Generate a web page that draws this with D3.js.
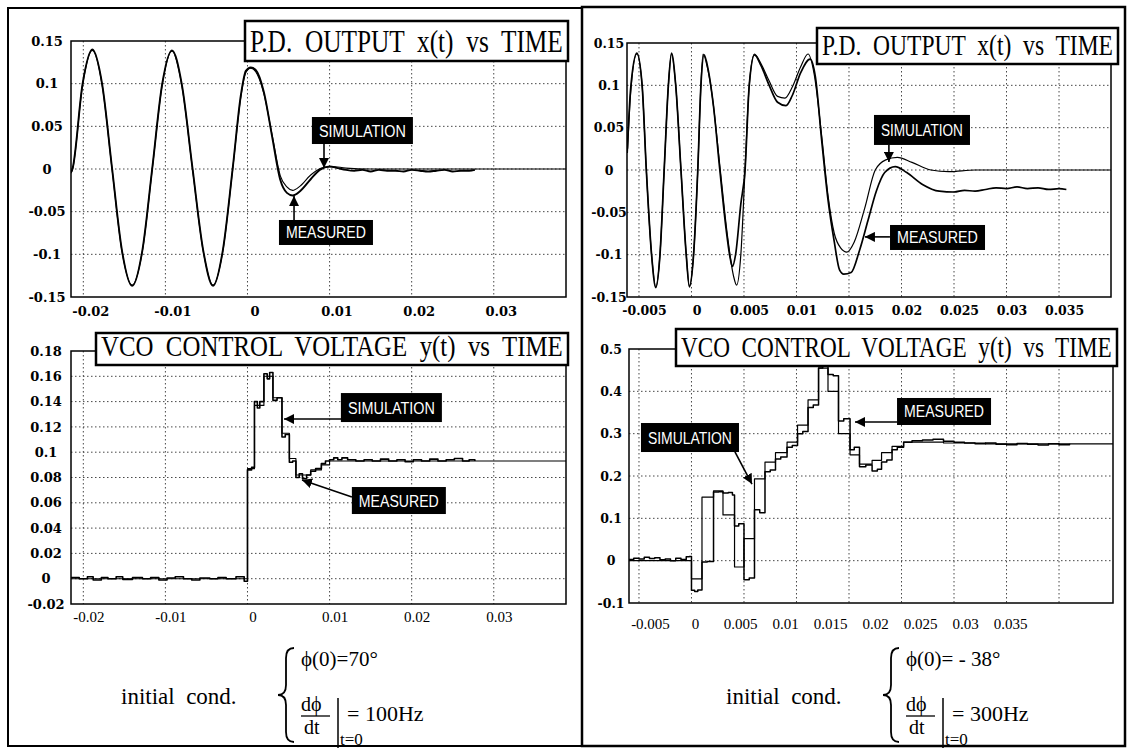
<!DOCTYPE html>
<html>
<head>
<meta charset="utf-8">
<script src="https://cdn.jsdelivr.net/npm/d3@7"></script>
<style>
  body { margin: 0; background: #fff; }
  svg { display: block; }
</style>
</head>
<body>
<svg id="chart" width="1129" height="752"></svg>
<script>
// tick values of the four plots
var leftTimeTicks  = [-0.02, -0.01, 0, 0.01, 0.02, 0.03];
var rightTimeTicks = [-0.005, 0, 0.005, 0.01, 0.015, 0.02, 0.025, 0.03, 0.035];
var pdTicks        = [-0.15, -0.1, -0.05, 0, 0.05, 0.1, 0.15];
var vcoLeftTicks   = [-0.02, 0, 0.02, 0.04, 0.06, 0.08, 0.1, 0.12, 0.14, 0.16, 0.18];
var vcoRightTicks  = [-0.1, 0, 0.1, 0.2, 0.3, 0.4, 0.5];

// P.D. output x(t), left case  [time, value]
var pdLeftSim = [[-0.0215,-0.005],[-0.0213,0.0],[-0.0201,0.098],[-0.0189,0.139],[-0.0177,0.098],[-0.0165,0.0],
  [-0.0153,-0.096],[-0.01405,-0.136],[-0.0128,-0.096],[-0.0116,0.0],[-0.0104,0.098],[-0.0092,0.138],[-0.0080,0.098],
  [-0.0067,0.0],[-0.0054,-0.096],[-0.0042,-0.136],[-0.0030,-0.096],[-0.0018,0.0],[-0.0008,0.085],[-0.0002,0.113],
  [0.0004,0.118],[0.0010,0.114],[0.0020,0.088],[0.0030,0.040],[0.0040,-0.008],[0.0048,-0.021],[0.0055,-0.025],
  [0.0064,-0.020],[0.0077,-0.007],[0.0090,0.001],[0.0103,0.003],[0.0120,0.001],[0.0150,0.0],[0.0388,0.0]];
var pdLeftMeas = [[-0.0215,-0.004],[-0.0213,0.001],[-0.0201,0.099],[-0.0189,0.140],[-0.0177,0.099],[-0.0165,0.001],
  [-0.0153,-0.095],[-0.01405,-0.137],[-0.0128,-0.095],[-0.0116,0.001],[-0.0104,0.099],[-0.0092,0.139],[-0.0080,0.099],
  [-0.0067,0.001],[-0.0054,-0.095],[-0.0042,-0.137],[-0.0030,-0.095],[-0.0018,0.001],[-0.0008,0.087],[-0.0002,0.115],
  [0.0004,0.119],[0.0010,0.116],[0.0020,0.090],[0.0030,0.038],[0.0040,-0.013],[0.0048,-0.028],[0.0055,-0.031],
  [0.0064,-0.026],[0.0077,-0.012],[0.0088,-0.001],[0.0100,0.003],[0.0110,0.001],[0.0120,-0.001],[0.0130,-0.002],
  [0.0140,-0.001],[0.0150,-0.003],[0.0160,-0.001],[0.0170,-0.002],[0.0180,-0.002],[0.0190,-0.003],[0.0200,-0.001],
  [0.0210,-0.002],[0.0220,-0.003],[0.0230,-0.002],[0.0240,-0.001],[0.0250,-0.003],[0.0260,-0.002],[0.0270,-0.002],
  [0.0277,-0.001]];

// VCO control voltage y(t), left case
var vcoLeftSim = [[-0.0215,0.0],[0.0,0.087],[0.00085,0.137],[0.0020,0.160],[0.0031,0.143],[0.0042,0.115],
  [0.0051,0.095],[0.0059,0.082],[0.0077,0.086],[0.0090,0.090],[0.0100,0.093],[0.0388,0.093]];
var vcoLeftMeas = [[-0.0215,0.001],[-0.0205,0.0],[-0.0195,0.0015],[-0.0188,-0.001],[-0.0178,0.001],[-0.0170,0.0],
  [-0.0160,0.0015],[-0.0152,-0.0005],[-0.0140,0.001],[-0.0128,0.0],[-0.0118,0.001],[-0.0108,-0.001],[-0.0098,0.0005],
  [-0.0088,0.0015],[-0.0078,0.0],[-0.0068,-0.001],[-0.0058,0.0005],[-0.0046,0.0],[-0.0036,0.001],[-0.0026,0.0],
  [-0.0014,0.0015],[-0.0004,-0.002],[0.0,0.086],[0.0005,0.088],[0.00085,0.140],[0.0012,0.135],[0.0015,0.140],
  [0.0020,0.162],[0.0024,0.158],[0.0027,0.163],[0.0031,0.141],[0.0036,0.143],[0.0042,0.112],[0.0046,0.114],
  [0.0051,0.092],[0.0055,0.093],[0.0059,0.080],[0.0063,0.083],[0.0067,0.079],[0.0072,0.082],[0.0077,0.085],
  [0.0083,0.087],[0.0090,0.091],[0.0095,0.093],[0.0100,0.094],[0.0105,0.0955],[0.0110,0.094],[0.0115,0.0955],
  [0.0122,0.094],[0.0132,0.093],[0.0142,0.094],[0.0152,0.093],[0.0162,0.0945],[0.0172,0.093],[0.0182,0.094],
  [0.0192,0.0925],[0.0202,0.094],[0.0212,0.093],[0.0222,0.0945],[0.0232,0.093],[0.0242,0.094],[0.0252,0.095],
  [0.0262,0.093],[0.0270,0.094],[0.0277,0.093]];

// P.D. output x(t), right case
var pdRightSim = [[-0.0061,0.02],[-0.0058,0.09],[-0.0052,0.137],[-0.0047,0.10],[-0.0043,0.0],[-0.0038,-0.10],
  [-0.0034,-0.138],[-0.0030,-0.10],[-0.0026,0.0],[-0.0022,0.10],[-0.0019,0.137],[-0.0015,0.10],[-0.0010,0.0],
  [-0.0005,-0.10],[-0.0002,-0.137],[0.0002,-0.10],[0.0006,0.0],[0.0009,0.10],[0.0011,0.137],[0.0015,0.122],
  [0.0020,0.085],[0.0027,0.005],[0.0034,-0.075],[0.0040,-0.125],[0.0043,-0.136],[0.0047,-0.10],[0.0051,0.0],
  [0.0055,0.10],[0.0060,0.137],[0.0066,0.126],[0.0074,0.105],[0.0082,0.087],[0.0089,0.085],[0.0096,0.098],
  [0.0104,0.122],[0.0111,0.137],[0.0117,0.112],[0.0124,0.04],[0.0130,-0.03],[0.0136,-0.075],[0.0142,-0.092],
  [0.0148,-0.097],[0.0155,-0.085],[0.0165,-0.045],[0.0175,0.0],[0.0185,0.012],[0.0196,0.015],[0.0210,0.009],
  [0.0228,0.0],[0.0245,-0.002],[0.0270,0.0],[0.0400,0.0]];
var pdRightMeas = [[-0.0061,0.025],[-0.0058,0.095],[-0.0052,0.138],[-0.0047,0.10],[-0.0043,0.0],[-0.0038,-0.10],
  [-0.0034,-0.139],[-0.0030,-0.10],[-0.0026,0.0],[-0.0022,0.10],[-0.0019,0.138],[-0.0015,0.10],[-0.0010,0.0],
  [-0.0005,-0.10],[-0.0002,-0.138],[0.0002,-0.10],[0.0006,0.0],[0.0009,0.10],[0.0012,0.136],[0.0016,0.118],
  [0.0021,0.075],[0.0027,0.0],[0.0033,-0.07],[0.0037,-0.105],[0.0039,-0.114],[0.0042,-0.10],[0.0047,-0.04],
  [0.0051,0.0],[0.0055,0.10],[0.0060,0.136],[0.0066,0.124],[0.0074,0.100],[0.0082,0.080],[0.0090,0.076],
  [0.0096,0.088],[0.0104,0.115],[0.0113,0.131],[0.0118,0.110],[0.0124,0.035],[0.0130,-0.035],[0.0136,-0.085],
  [0.0141,-0.118],[0.0145,-0.123],[0.0152,-0.121],[0.0160,-0.095],[0.0168,-0.060],[0.0176,-0.025],[0.0184,-0.003],
  [0.0194,0.004],[0.0205,-0.003],[0.0220,-0.017],[0.0236,-0.025],[0.0250,-0.026],[0.0260,-0.024],[0.0270,-0.025],
  [0.0280,-0.023],[0.0290,-0.021],[0.0300,-0.022],[0.0310,-0.020],[0.0320,-0.022],[0.0330,-0.021],[0.0340,-0.023],
  [0.0350,-0.022],[0.0357,-0.023]];

// VCO control voltage y(t), right case
var vcoRightSim = [[-0.0060,0.0],[0.0,-0.043],[0.001,0.150],[0.0021,0.165],[0.003,0.108],[0.0041,-0.015],
  [0.005,0.052],[0.006,0.193],[0.007,0.233],[0.008,0.255],[0.0091,0.280],[0.0101,0.320],[0.0111,0.380],
  [0.0121,0.455],[0.013,0.400],[0.014,0.300],[0.0151,0.250],[0.016,0.228],[0.0172,0.237],[0.0181,0.255],
  [0.0191,0.270],[0.0202,0.280],[0.024,0.278],[0.028,0.276],[0.0402,0.275]];
var vcoRightMeas = [[-0.0060,0.003],[-0.0055,0.006],[-0.005,0.004],[-0.0045,0.008],[-0.004,0.005],[-0.0035,0.007],
  [-0.003,0.002],[-0.0025,0.004],[-0.002,0.000],[-0.0015,0.006],[-0.001,0.003],[-0.0005,0.009],[-0.0002,0.010],
  [0.0,-0.070],[0.0003,-0.073],[0.0006,-0.069],[0.001,-0.003],[0.0015,-0.002],[0.0021,0.162],[0.0026,0.163],
  [0.003,0.160],[0.0035,0.161],[0.0039,0.155],[0.0041,0.082],[0.0045,0.087],[0.005,-0.045],[0.0055,-0.041],
  [0.006,0.120],[0.0065,0.113],[0.007,0.210],[0.0075,0.214],[0.008,0.240],[0.0085,0.245],[0.0091,0.268],
  [0.0096,0.272],[0.0101,0.300],[0.0106,0.305],[0.0111,0.362],[0.0116,0.368],[0.0121,0.455],[0.0125,0.460],
  [0.013,0.440],[0.0135,0.437],[0.014,0.330],[0.0145,0.335],[0.0151,0.262],[0.0155,0.268],[0.016,0.222],
  [0.0166,0.226],[0.0172,0.212],[0.0177,0.216],[0.0181,0.233],[0.0186,0.238],[0.0191,0.262],[0.0196,0.268],
  [0.0202,0.280],[0.021,0.283],[0.022,0.285],[0.023,0.287],[0.024,0.282],[0.025,0.280],[0.026,0.278],
  [0.027,0.276],[0.028,0.278],[0.029,0.275],[0.030,0.274],[0.031,0.277],[0.032,0.275],[0.033,0.273],
  [0.034,0.276],[0.035,0.274],[0.036,0.276]];

// initial conditions written under each column
var leftCond  = ["\u03D5(0)=70\u00B0", "= 100Hz"];
var rightCond = ["\u03D5(0)= - 38\u00B0", "= 300Hz"];

var svg = d3.select("#chart");
var serif = "'Liberation Serif', 'Times New Roman', serif";
var tickFont = "'DejaVu Serif', serif";
var narrow = "'Liberation Sans Narrow', 'Liberation Sans', Arial, sans-serif";

// squeeze a text horizontally so that it fits a given width
function fitText(sel, x, y, width) {
  var len = sel.node().getComputedTextLength();
  var k = len > 0 ? width / len : 1;
  sel.attr("x", 0).attr("y", 0)
     .attr("transform", "translate(" + x + "," + y + ") scale(" + k + ",1)");
}

// arrow head
svg.append("defs").append("marker")
    .attr("id", "head")
    .attr("viewBox", "0 0 10 10")
    .attr("refX", 10).attr("refY", 5)
    .attr("markerUnits", "userSpaceOnUse")
    .attr("markerWidth", 10).attr("markerHeight", 10)
    .attr("orient", "auto")
  .append("path")
    .attr("d", "M0,0 L10,5 L0,10 z")
    .attr("fill", "#000");

// outer frames of the two columns
svg.append("rect").attr("x", 8).attr("y", 8).attr("width", 574).attr("height", 738)
    .attr("fill", "none").attr("stroke", "#000").attr("stroke-width", 2);
svg.append("rect").attr("x", 582).attr("y", 7).attr("width", 543).attr("height", 739)
    .attr("fill", "none").attr("stroke", "#000").attr("stroke-width", 2.5);

function drawPanel(p, idx) {
  var x = d3.scaleLinear().domain(p.xDomain).range([p.left, p.right]);
  var y = d3.scaleLinear().domain(p.yDomain).range([p.bottom, p.top]);
  // the time labels under some plots are spaced a bit differently from the grid
  var xl = p.labelRange
      ? d3.scaleLinear().domain([p.xTicks[0], p.xTicks[p.xTicks.length - 1]]).range(p.labelRange)
      : x;
  var g = svg.append("g");

  g.append("clipPath").attr("id", "clip" + idx)
    .append("rect").attr("x", p.left).attr("y", p.top)
    .attr("width", p.right - p.left).attr("height", p.bottom - p.top);

  // dotted grid
  g.append("g").selectAll("line").data(p.xTicks).enter().append("line")
      .attr("x1", function(d) { return x(d); }).attr("x2", function(d) { return x(d); })
      .attr("y1", p.top).attr("y2", p.bottom)
      .attr("stroke", "#333").attr("stroke-width", 0.9).attr("stroke-dasharray", "1.5,2.5");
  g.append("g").selectAll("line").data(p.yTicks.slice(1, -1)).enter().append("line")
      .attr("y1", function(d) { return y(d); }).attr("y2", function(d) { return y(d); })
      .attr("x1", p.left).attr("x2", p.right)
      .attr("stroke", "#333").attr("stroke-width", 0.9).attr("stroke-dasharray", "1.5,2.5");

  // curves
  p.series.forEach(function(s) {
    g.append("path").datum(s.data)
        .attr("clip-path", "url(#clip" + idx + ")")
        .attr("d", d3.line()
          .x(function(d) { return x(d[0]); })
          .y(function(d) { return y(d[1]); })
          .curve(p.curve))
        .attr("fill", "none")
        .attr("stroke", "#000")
        .attr("stroke-width", s.width)
        .attr("stroke-linejoin", "round");
  });

  // plot frame
  g.append("rect").attr("x", p.left).attr("y", p.top)
      .attr("width", p.right - p.left).attr("height", p.bottom - p.top)
      .attr("fill", "none").attr("stroke", "#000").attr("stroke-width", 1.5);

  // y labels, centred in the margin
  var ya = g.append("g").attr("transform", "translate(" + (p.left - p.yLabelOffset) + ",0)")
      .call(d3.axisLeft(y).tickValues(p.yTicks).tickSize(0).tickPadding(0)
        .tickFormat(function(d) { return String(d); }));
  ya.select(".domain").remove();
  ya.selectAll("text")
      .attr("text-anchor", "middle")
      .attr("font-family", tickFont).attr("font-weight", "bold")
      .attr("font-size", p.yLabelSize).attr("fill", "#000");

  // x labels
  var xa = g.append("g").attr("transform", "translate(" + p.xLabelShift + "," + p.xLabelY + ")")
      .call(d3.axisBottom(xl).tickValues(p.xTicks).tickSize(0).tickPadding(0)
        .tickFormat(function(d) { return String(d); }));
  xa.select(".domain").remove();
  xa.selectAll("text")
      .attr("dy", "0.35em")
      .attr("font-family", p.xBold ? tickFont : serif)
      .attr("font-weight", p.xBold ? "bold" : "normal")
      .attr("font-size", p.xLabelSize).attr("fill", "#000");

  // title box
  var t = p.title;
  g.append("rect").attr("x", t.x0).attr("y", t.y0)
      .attr("width", t.x1 - t.x0).attr("height", t.y1 - t.y0)
      .attr("fill", "#fff").attr("stroke", "#000").attr("stroke-width", 2.5);
  var tt = g.append("text")
      .attr("font-family", serif).attr("font-size", t.size)
      .style("white-space", "pre")
      .text(t.text);
  fitText(tt, t.x0 + 5, t.y1 - 9, t.x1 - t.x0 - 10);

  // labelled arrows
  p.notes.forEach(function(n) {
    var cx = x(n.at[0]), cy = y(n.at[1]);
    g.append("line")
        .attr("x1", x(n.from[0])).attr("y1", y(n.from[1]))
        .attr("x2", x(n.to[0])).attr("y2", y(n.to[1]))
        .attr("stroke", "#000").attr("stroke-width", 1.6)
        .attr("marker-end", "url(#head)");
    g.append("rect").attr("x", cx - n.w / 2).attr("y", cy - n.h / 2)
        .attr("width", n.w).attr("height", n.h).attr("fill", "#000");
    var nt = g.append("text")
        .attr("font-family", narrow).attr("font-size", 17).attr("fill", "#fff")
        .text(n.text);
    fitText(nt, cx - n.w / 2 + 7, cy + 6, n.w - 14);
  });
}

var panels = [
  { // P.D. output, left
    xDomain: [-0.0215, 0.0388], left: 71, right: 566,
    yDomain: [-0.15, 0.15], top: 41, bottom: 297,
    xTicks: leftTimeTicks, yTicks: pdTicks, curve: d3.curveMonotoneX,
    yLabelOffset: 24, yLabelSize: 13, xLabelY: 311, xLabelShift: 7, xLabelSize: 13, xBold: true,
    series: [{data: pdLeftMeas, width: 1.9}, {data: pdLeftSim, width: 1.1}],
    title: {text: "P.D.  OUTPUT  x(t)  vs  TIME", x0: 245, x1: 568, y0: 21, y1: 61, size: 31},
    notes: [
      {text: "SIMULATION", at: [0.0140, 0.0451], w: 101, h: 27, from: [0.00932, 0.0293], to: [0.00932, 0.0012]},
      {text: "MEASURED", at: [0.00956, -0.0744], w: 94, h: 25, from: [0.00567, -0.0598], to: [0.00567, -0.0316]}
    ]
  },
  { // VCO control voltage, left
    xDomain: [-0.0215, 0.0388], left: 71, right: 566,
    yDomain: [-0.02, 0.18], top: 351, bottom: 604,
    xTicks: leftTimeTicks, yTicks: vcoLeftTicks, curve: d3.curveStepAfter,
    yLabelOffset: 25, yLabelSize: 13, xLabelY: 617, xLabelShift: 5, xLabelSize: 15, xBold: false,
    series: [{data: vcoLeftMeas, width: 1.6}, {data: vcoLeftSim, width: 1.1}],
    title: {text: "VCO  CONTROL  VOLTAGE  y(t)  vs  TIME", x0: 96, x1: 568, y0: 333, y1: 365, size: 30},
    notes: [
      {text: "SIMULATION", at: [0.01753, 0.1353], w: 101, h: 29, from: [0.01139, 0.1262], to: [0.00445, 0.1262]},
      {text: "MEASURED", at: [0.01844, 0.0618], w: 94, h: 27, from: [0.01272, 0.0645], to: [0.00664, 0.078]}
    ]
  },
  { // P.D. output, right
    xDomain: [-0.00614, 0.03995], left: 627, right: 1111,
    yDomain: [-0.15, 0.15], top: 43, bottom: 297,
    xTicks: rightTimeTicks, yTicks: pdTicks, curve: d3.curveMonotoneX,
    yLabelOffset: 18, yLabelSize: 12.5, xLabelY: 311, xLabelShift: 5, xLabelSize: 12.5, xBold: true,
    series: [{data: pdRightMeas, width: 1.7}, {data: pdRightSim, width: 1.2}],
    title: {text: "P.D.  OUTPUT  x(t)  vs  TIME", x0: 817, x1: 1118, y0: 28, y1: 64, size: 30},
    notes: [
      {text: "SIMULATION", at: [0.02195, 0.0473], w: 96, h: 30, from: [0.0188, 0.0295], to: [0.0188, 0.0095]},
      {text: "MEASURED", at: [0.02343, -0.0797], w: 95, h: 25, from: [0.0189, -0.079], to: [0.01652, -0.079]}
    ]
  },
  { // VCO control voltage, right
    xDomain: [-0.00595, 0.04014], left: 629, right: 1113,
    yDomain: [-0.1, 0.5], top: 349, bottom: 603,
    xTicks: rightTimeTicks, yTicks: vcoRightTicks, curve: d3.curveStepAfter,
    yLabelOffset: 18, yLabelSize: 12.5, xLabelY: 624, xLabelShift: 0, xLabelSize: 15, xBold: false,
    labelRange: [650, 1010],
    series: [{data: vcoRightMeas, width: 1.5}, {data: vcoRightSim, width: 1.2}],
    title: {text: "VCO  CONTROL  VOLTAGE  y(t)  vs  TIME", x0: 676, x1: 1117, y0: 329, y1: 366, size: 30},
    notes: [
      {text: "MEASURED", at: [0.02405, 0.3524], w: 94, h: 27, from: [0.01957, 0.3276], to: [0.01557, 0.3276]},
      {text: "SIMULATION", at: [-0.000143, 0.2909], w: 98, h: 29, from: [0.00414, 0.2567], to: [0.00576, 0.181]}
    ]
  }
];

panels.forEach(drawPanel);

// brace drawn as a path
function brace(x, y0, y1, w) {
  var ym = (y0 + y1) / 2, r = 10;
  var p = d3.path();
  p.moveTo(x + w / 2, y0);
  p.quadraticCurveTo(x, y0, x, y0 + r);
  p.lineTo(x, ym - r);
  p.quadraticCurveTo(x, ym, x - w / 2, ym);
  p.quadraticCurveTo(x, ym, x, ym + r);
  p.lineTo(x, y1 - r);
  p.quadraticCurveTo(x, y1, x + w / 2, y1);
  return p.toString();
}

function drawConditions(x0, cond) {
  var g = svg.append("g").attr("font-family", serif).attr("fill", "#000");
  g.append("text").attr("x", x0).attr("y", 704).attr("font-size", 23)
      .style("white-space", "pre").text("initial  cond.");
  g.append("path").attr("d", brace(x0 + 165, 648, 742, 16))
      .attr("fill", "none").attr("stroke", "#000").attr("stroke-width", 1.8);
  g.append("text").attr("x", x0 + 180).attr("y", 666).attr("font-size", 21).text(cond[0]);
  g.append("text").attr("x", x0 + 180).attr("y", 711).attr("font-size", 20).text("d\u03D5");
  g.append("line").attr("x1", x0 + 180).attr("x2", x0 + 209).attr("y1", 716).attr("y2", 716)
      .attr("stroke", "#000").attr("stroke-width", 1.3);
  g.append("text").attr("x", x0 + 183).attr("y", 734).attr("font-size", 20).text("dt");
  g.append("line").attr("x1", x0 + 217).attr("x2", x0 + 217).attr("y1", 698).attr("y2", 748)
      .attr("stroke", "#000").attr("stroke-width", 1.5);
  g.append("text").attr("x", x0 + 226).attr("y", 721).attr("font-size", 22).text(cond[1]);
  g.append("text").attr("x", x0 + 219).attr("y", 745).attr("font-size", 17).text("t=0");
}

drawConditions(121, leftCond);
drawConditions(726, rightCond);
</script>
</body>
</html>
